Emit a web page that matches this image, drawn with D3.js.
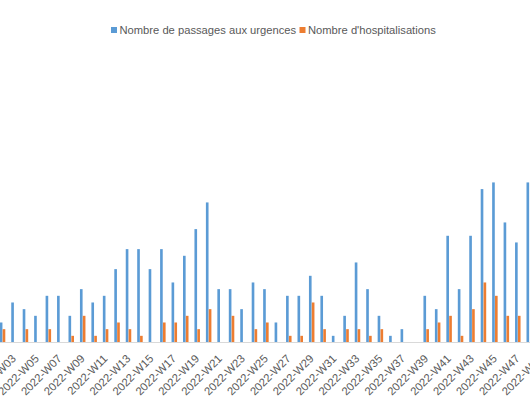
<!DOCTYPE html>
<html>
<head>
<meta charset="utf-8">
<script src="https://cdn.jsdelivr.net/npm/d3@7"></script>
<style>
  body { margin: 0; background: #fff; overflow: hidden; }
  #chart { width: 530px; height: 396px; }
  .legendText { font-family: "Liberation Sans", Arial, sans-serif; font-size: 11.2px; fill: #595959; }
  .xAxis text { font-family: "Liberation Sans", Arial, sans-serif; font-size: 11.3px; fill: #595959; }
</style>
</head>
<body>
<div id="chart"></div>
<script>
// weeks visible in the picture (the chart is cropped on both sides)
var weeks = ["2022-W02", "2022-W03", "2022-W04", "2022-W05", "2022-W06", "2022-W07", "2022-W08", "2022-W09",
  "2022-W10", "2022-W11", "2022-W12", "2022-W13", "2022-W14", "2022-W15", "2022-W16", "2022-W17",
  "2022-W18", "2022-W19", "2022-W20", "2022-W21", "2022-W22", "2022-W23", "2022-W24", "2022-W25",
  "2022-W26", "2022-W27", "2022-W28", "2022-W29", "2022-W30", "2022-W31", "2022-W32", "2022-W33",
  "2022-W34", "2022-W35", "2022-W36", "2022-W37", "2022-W38", "2022-W39", "2022-W40", "2022-W41",
  "2022-W42", "2022-W43", "2022-W44", "2022-W45", "2022-W46", "2022-W47", "2022-W48", "2022-W49"];

// Nombre de passages aux urgences
var urgences = [3, 6, 5, 4, 7, 7, 4, 8, 6, 7, 11, 14, 14, 11, 14, 9,
  13, 17, 21, 8, 8, 5, 9, 8, 3, 7, 7, 10, 7, 1, 4, 12,
  8, 4, 1, 2, 0, 7, 5, 16, 8, 16, 23, 24, 18, 15, 24, null];

// Nombre d'hospitalisations
var hospitalisations = [2, 0, 2, 0, 2, 0, 1, 4, 1, 2, 3, 2, 1, 0, 3, 3,
  4, 2, 5, 0, 4, 0, 2, 3, 0, 1, 1, 6, 2, 0, 2, 2,
  1, 2, 0, 0, 0, 2, 3, 4, 1, 5, 9, 7, 4, 4, null, null];

var seriesNames = ["Nombre de passages aux urgences", "Nombre d'hospitalisations"];
var seriesColors = ["#5b9bd5", "#ed7d31"];

var width = 530;
var height = 396;
var baseline = 342.5;
var step = 11.45;
var firstCenter = 2.5;

var svg = d3.select("#chart")
  .append("svg")
  .attr("width", width)
  .attr("height", height);

var xScale = d3.scaleBand()
  .domain(weeks)
  .range([firstCenter - step / 2, firstCenter - step / 2 + step * weeks.length])
  .padding(0);

var xSub = d3.scaleBand()
  .domain([0, 1])
  .range([step / 2 - 2.7, step / 2 + 2.8])
  .paddingInner(0.08);

var yScale = d3.scaleLinear()
  .domain([0, 30])
  .range([baseline, baseline - 30 * 6.67]);

var series = [urgences, hospitalisations];

series.forEach(function(values, s) {
  svg.append("g")
    .selectAll("rect")
    .data(weeks.map(function(w, i) { return { week: w, value: values[i] }; })
      .filter(function(d) { return d.value; }))
    .enter()
    .append("rect")
    .attr("x", function(d) { return xScale(d.week) + xSub(s); })
    .attr("width", xSub.bandwidth())
    .attr("y", function(d) { return yScale(d.value); })
    .attr("height", function(d) { return baseline - yScale(d.value); })
    .attr("fill", seriesColors[s]);
});

// x axis, one label every two weeks
var xAxis = d3.axisBottom(xScale)
  .tickSize(0)
  .tickValues(weeks.filter(function(w) { return +w.slice(-2) % 2 === 1; }));

var xAxisG = svg.append("g")
  .attr("class", "xAxis")
  .attr("transform", "translate(0," + baseline + ")")
  .call(xAxis);

xAxisG.select(".domain").remove();
xAxisG.append("line")
  .attr("x1", 0)
  .attr("x2", width)
  .attr("stroke", "#d9d9d9")
  .attr("stroke-width", 1);

xAxisG.selectAll(".tick text")
  .attr("text-anchor", "end")
  .attr("x", 0)
  .attr("y", 0)
  .attr("dy", "0.72em")
  .attr("transform", "translate(-3,11) rotate(-45)");

// legend
var legend = svg.append("g").attr("class", "legend");
var legendX = [111, 299.5];
seriesNames.forEach(function(name, s) {
  legend.append("rect")
    .attr("x", legendX[s])
    .attr("y", 27)
    .attr("width", 6)
    .attr("height", 6)
    .attr("fill", seriesColors[s]);
  legend.append("text")
    .attr("class", "legendText")
    .attr("x", legendX[s] + 8.5)
    .attr("y", 33.5)
    .text(name);
});
</script>
</body>
</html>
